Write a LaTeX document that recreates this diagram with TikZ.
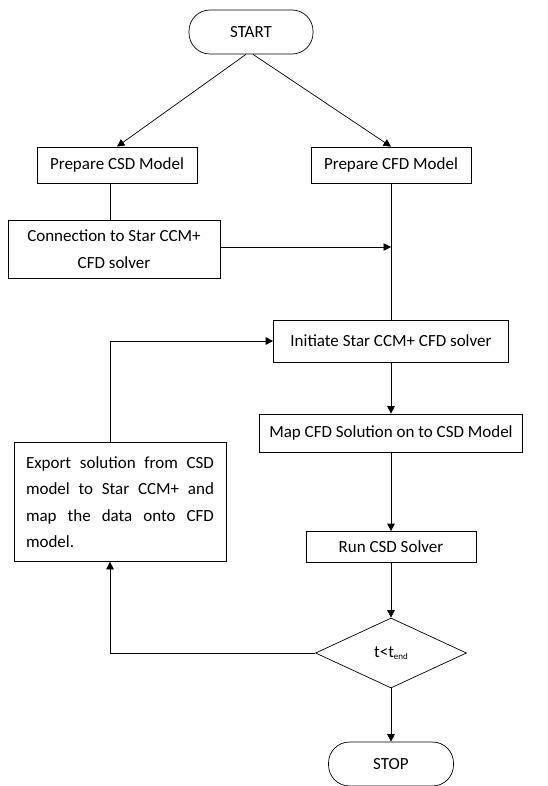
\documentclass[tikz,border=0pt]{standalone}
\usepackage{fontspec}
\setmainfont{Carlito}
\usepackage{tikz}
\usetikzlibrary{shapes.geometric, arrows.meta, positioning, calc}
\tikzstyle{startstop} = [rectangle, rounded corners=21pt, minimum width=124pt, minimum height=44pt, text centered, draw=black]
\tikzstyle{process} = [rectangle, minimum height=36pt, text centered, inner sep=4pt, draw=black]
\tikzstyle{textbox} = [rectangle, text width=188pt, align=justify, inner xsep=12pt, minimum height=119pt, draw=black]
\tikzstyle{decision} = [diamond, aspect=2.16, minimum width=151pt, minimum height=70pt, inner sep=0pt, draw=black]
\tikzstyle{arrow} = [-{Triangle[length=7.5pt,width=7.5pt]}]
\tikzstyle{plain} = []

\begin{document}
\begin{tikzpicture}[node distance=92pt, line width=0.7pt, every node/.style={font=\fontsize{17}{26.5}\selectfont}]
\useasboundingbox (0,0) rectangle (547pt,-786pt);
\node (start) [startstop] at (251pt,-32pt) {START};
\node (prepCSD) [process, minimum width=160pt, below of=start, xshift=-134pt, yshift=-41pt] {Prepare CSD Model};
\node (prepCFD) [process, minimum width=160pt, below of=start, xshift=140pt, yshift=-41pt] {Prepare CFD Model};
\node (connect) [process, minimum width=212pt, minimum height=58pt, align=center, below of=prepCSD, xshift=-3pt, yshift=8pt] {Connection to Star CCM+\\CFD solver};
\node (initCFD) [process, minimum width=235pt, minimum height=42pt, below of=prepCFD, yshift=-84pt] {Initiate Star CCM+ CFD solver};
\node (mapCFD) [process, minimum width=263pt, minimum height=38pt, below of=initCFD] {Map CFD Solution on to CSD Model};
\node (runCSD) [process, minimum width=170pt, minimum height=31pt, below of=mapCFD, yshift=-22pt] {Run CSD Solver};
\node (timeCheck) [decision, below of=runCSD, yshift=-14pt] {t<t\raisebox{-2.5pt}{\fontsize{9}{9}\selectfont end}};
\node (stop) [startstop, minimum width=125pt, below of=timeCheck, yshift=-19pt] {STOP};
\node (export) [textbox, below of=connect, xshift=6pt, yshift=-161pt] {Export solution from CSD model to Star CCM+ and map the data onto CFD model.};

\draw [arrow] ([xshift=-5pt]start.south) -- (prepCSD.north);
\draw [arrow] ([xshift=2pt]start.south) -- (prepCFD.north);
\draw [plain] ([xshift=-7pt]prepCSD.south) -- ([xshift=-4pt]connect.north);
\draw [arrow] ([yshift=2pt]connect.east) -- ([yshift=2pt]connect.east -| prepCFD.south);
\draw [plain] (prepCFD) -- (initCFD);
\draw [arrow] (initCFD) -- (mapCFD);
\draw [arrow] (mapCFD) -- (runCSD);
\draw [arrow] (runCSD) -- (timeCheck);
\draw [arrow] (timeCheck) -- (stop);
\draw [arrow] (timeCheck.west) -| ([xshift=-10pt]export.south);
\draw [arrow] ([xshift=-10pt]export.north) |- (initCFD.west);
\end{tikzpicture}
\end{document}
